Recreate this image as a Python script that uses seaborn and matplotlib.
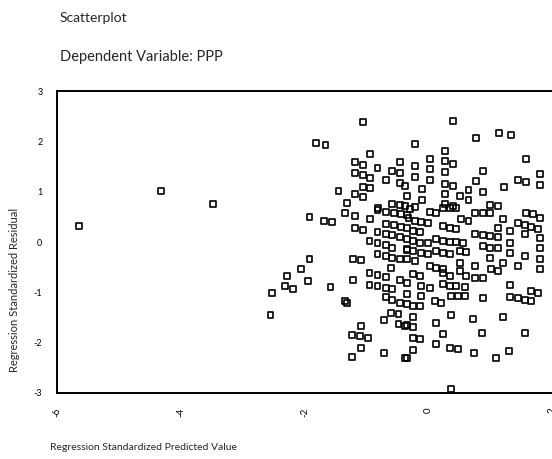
import matplotlib
matplotlib.use('Agg')
from matplotlib import pyplot as plt
import seaborn as sns
import pandas as pd

# standardized predicted value (x) and standardized residual (y)
pred = [
    -5.65, -4.32, -3.48,
    -1.06, -1.81, -1.66, -0.94, -1.19, -1.06, -0.82, -0.45, -1.19, -1.06, -0.94,
    -0.58, -0.45, -0.69, -1.06, -0.94, -0.45, -0.37, -1.45, -1.19, -1.06, -1.32,
    -0.58, -0.45, -0.37, -0.81,
    0.40, 0.77, 1.15, 1.34, -0.21, 0.27, 1.58, 0.03, 0.27, 0.40, -0.21, 0.03,
    0.27, 0.89, -0.21, 0.03, 0.77, 1.81, 1.81, 1.45, 1.58, 0.27, 0.40, -0.10,
    0.65, 1.23, 0.89, 0.27, -0.34, -0.10, 0.52, 0.65, 0.27, 0.40, 1.00, 1.13,
    -0.21,
    -1.92, -1.69, -1.56, -1.34, -1.19, -0.94, -0.82, -0.69, -0.56, -0.44, -0.35,
    -1.19, -1.06, -0.82, -0.69, -0.58, -0.45, -0.69, -0.56, -0.44, -0.35,
    -0.95, -0.82, -0.69, -0.58, -0.35, -1.92, -1.21, -1.08, -0.82, -0.69, -0.58,
    -0.45, -2.05, -0.60, -2.29, -1.94, -1.21, -0.95, -0.82, -0.69, -0.45,
    -2.31, -2.18, -1.58, -0.95, -0.82, -0.69, -0.58, -2.53, -1.34, -0.69, -0.58,
    -0.45,
    0.03, 0.13, 0.76, 0.89, 1.00, 1.58, 1.69, 1.81, -0.29, 0.24, 0.35, 0.45,
    -0.32, -0.21, -0.11, 0.00, 0.24, 0.35, 0.45, 0.53, 0.65, 1.21, 1.45, 1.56,
    1.66, 1.77, -0.24, -0.13, 0.76, 0.89, 1.00, 1.13, 1.13, 1.32, 1.56, 1.81,
    -0.35, -0.24, -0.13, 0.00, 0.13, 0.24, 0.35, 0.45, 0.56, 0.89, 1.00, 1.13,
    1.32, 1.81,
    -0.35, -0.24, -0.11, 0.00, 0.13, 0.24, 0.35, 0.52, 0.61, 1.00, 1.32, 1.56,
    1.81,
    -0.35, -0.21, 0.03, 0.13, 0.24, 0.52, 0.76, 1.02, 1.13, 1.21, 1.45, 1.81,
    -0.24, -0.13, 0.24, 0.35, 0.52, 0.61, 0.76, 0.89,
    -0.35, -0.11, 0.03, 0.24, 0.35, 0.45, 0.60, 1.32, 1.66, 1.77,
    -0.35, -0.11, 0.37, 0.48, 0.60, 0.89, 1.32, 1.45, 1.56, 1.66, 0.11, 0.21,
    -2.55, -1.32, -0.60, -0.48, -1.08, -0.71, -0.48, -0.37, -1.23, -1.10, -0.98,
    -1.08, -1.23, -0.71, -0.37,
    -0.35, -0.24, -0.13, -0.24, 0.37, 0.13, 0.73, 1.21, -0.35, -0.24, 0.24,
    -0.24, -0.13, 0.13, 0.35, 0.48, 0.87, 1.56, -0.24, -0.35, 0.74, 1.31, 1.10,
    0.37,
]
resid = [
    0.32, 1.01, 0.76,
    2.39, 1.97, 1.93, 1.75, 1.59, 1.53, 1.47, 1.59, 1.37, 1.33, 1.27,
    1.41, 1.37, 1.23, 1.09, 1.07, 1.17, 1.11, 1.01, 0.95, 0.89, 0.78,
    0.76, 0.74, 0.72, 0.68,
    2.41, 2.07, 2.17, 2.13, 1.95, 1.81, 1.65, 1.65, 1.61, 1.55, 1.51, 1.45,
    1.39, 1.41, 1.29, 1.23, 1.21, 1.35, 1.13, 1.23, 1.19, 1.15, 1.11, 1.05,
    1.03, 1.09, 0.99, 0.95, 0.91, 0.84, 0.91, 0.84, 0.76, 0.72, 0.74, 0.72,
    0.70,
    0.50, 0.42, 0.40, 0.58, 0.52, 0.46, 0.64, 0.60, 0.58, 0.56, 0.54,
    0.28, 0.24, 0.20, 0.16, 0.14, 0.10, 0.36, 0.34, 0.30, 0.28,
    0.02, -0.02, -0.06, -0.12, -0.16, -0.34, -0.34, -0.36, -0.24, -0.28, -0.32,
    -0.34, -0.54, -0.52, -0.68, -0.78, -0.76, -0.62, -0.66, -0.70, -0.76,
    -0.87, -0.93, -0.89, -0.85, -0.87, -0.91, -0.93, -1.01, -1.17, -1.09, -1.15,
    -1.21,
    0.60, 0.58, 0.58, 0.58, 0.58, 0.58, 0.56, 0.48, 0.66, 0.68, 0.68, 0.68,
    0.48, 0.42, 0.40, 0.38, 0.32, 0.28, 0.26, 0.46, 0.42, 0.46, 0.38, 0.34,
    0.30, 0.26, 0.22, 0.20, 0.16, 0.14, 0.12, 0.10, 0.28, 0.22, 0.16, 0.08,
    0.06, 0.02, -0.02, -0.02, 0.06, 0.02, 0.00, 0.00, -0.02, -0.08, -0.12, -0.12,
    -0.02, -0.12,
    -0.14, -0.18, -0.22, -0.24, -0.18, -0.22, -0.24, -0.18, -0.20, -0.32, -0.22, -0.28,
    -0.34,
    -0.34, -0.38, -0.48, -0.52, -0.54, -0.42, -0.48, -0.54, -0.58, -0.42, -0.48, -0.54,
    -0.64, -0.68, -0.62, -0.68, -0.58, -0.68, -0.72, -0.72,
    -0.82, -0.87, -0.91, -0.84, -0.87, -0.87, -0.89, -0.85, -0.97, -1.01,
    -1.03, -1.07, -1.07, -1.07, -1.07, -1.11, -1.09, -1.11, -1.15, -1.17, -1.17, -1.21,
    -1.45, -1.21, -1.41, -1.43, -1.67, -1.55, -1.63, -1.67, -1.85, -1.87, -1.91,
    -2.11, -2.29, -2.21, -2.31,
    -1.23, -1.27, -1.27, -1.49, -1.45, -1.61, -1.53, -1.49, -1.65, -1.69, -1.83,
    -1.91, -1.93, -2.03, -2.11, -2.13, -1.81, -1.81, -2.15, -2.31, -2.21, -2.17, -2.31,
    -2.92,
]

x_ticks = [-6, -4, -2, 0, 2]
y_ticks = [-3, -2, -1, 0, 1, 2, 3]

df = pd.DataFrame({'pred': pred, 'resid': resid})

sns.set_style('white')
plt.rcParams['font.family'] = ['Lato', 'DejaVu Sans']
plt.rcParams['axes.unicode_minus'] = False

fig = plt.figure(figsize=(5.52, 4.59), dpi=100, facecolor='white')
ax = fig.add_axes([57 / 552, 66 / 459, 495 / 552, 302 / 459])

sns.scatterplot(data=df, x='pred', y='resid', ax=ax, marker='s', s=18,
                facecolor='none', edgecolor='black', linewidth=1.2)

ax.set_xlim(-6, 2)
ax.set_ylim(-3, 3)
ax.set_xticks(x_ticks)
ax.set_yticks(y_ticks)
ax.set_xticklabels([str(t) for t in x_ticks], rotation=90, fontsize=7)
ax.set_yticklabels([str(t) for t in y_ticks], fontsize=6.5)
ax.tick_params(axis='both', direction='inout', length=3, width=2, colors='black', pad=9)
ax.set_xlabel('')
ax.set_ylabel('')

for side in ['left', 'bottom', 'top']:
    ax.spines[side].set_color('black')
    ax.spines[side].set_linewidth(1.4)
ax.spines['right'].set_visible(False)

fig.text(60 / 552, 1 - 18 / 459, 'Scatterplot', fontsize=10, va='center', ha='left')
fig.text(60 / 552, 1 - 57 / 459, 'Dependent Variable: PPP', fontsize=10.5, va='center', ha='left')
fig.text(15 / 552, 1 - 290 / 459, 'Regression Standardized Residual', fontsize=8,
         rotation=90, va='center', ha='center')
fig.text(50 / 552, 1 - 447 / 459, 'Regression Standardized Predicted Value', fontsize=7.5,
         va='center', ha='left')

fig.savefig('out.png', dpi=100)
